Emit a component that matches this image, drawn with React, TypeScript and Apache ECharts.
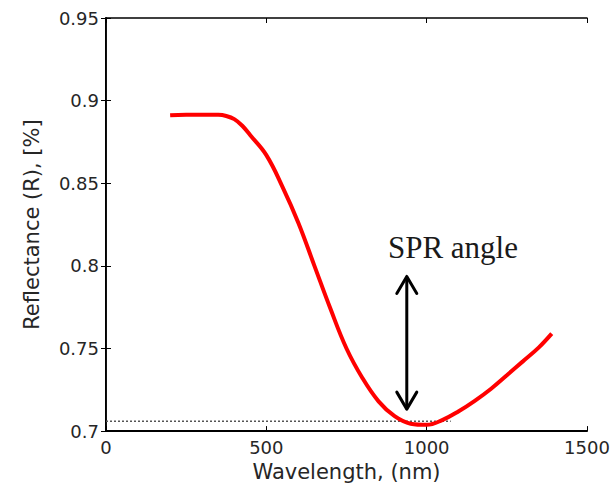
import React, { useEffect, useRef } from "react";
import * as echarts from "echarts";

// Reflectance curve
const wavelength = [200, 250, 300, 350, 375, 400, 425, 450, 500, 550, 600, 650, 700, 750, 800, 850, 900, 950, 1000, 1050, 1100, 1150, 1200, 1250, 1300, 1350, 1390];
const reflectance = [0.8912, 0.8915, 0.8915, 0.8914, 0.8907, 0.8888, 0.8848, 0.879, 0.867, 0.848, 0.826, 0.8, 0.774, 0.75, 0.732, 0.718, 0.709, 0.7045, 0.7038, 0.7068, 0.712, 0.7183, 0.7255, 0.7338, 0.7422, 0.7507, 0.759];

// Dotted reference line at the minimum
const refLineX = [0, 1075];
const refLineY = 0.706;

// SPR arrow and label
const arrowX = 938;
const arrowBottom = 0.7133;
const arrowTop = 0.7936;
const sprLabel = "SPR angle";
const sprLabelPos = [1082, 0.8111];

// Axes
const xMin = 0;
const xMax = 1500;
const xInterval = 500;
const yMin = 0.7;
const yMax = 0.95;
const yInterval = 0.05;
const xTitle = "Wavelength, (nm)";
const yTitle = "Reflectance (R), [%]";

export default function App() {
  const ref = useRef<HTMLDivElement>(null);
  useEffect(() => {
    if (!ref.current) return;
    const chart = echarts.init(ref.current, null, { renderer: "svg" });
    const labelFont = { fontFamily: "DejaVu Sans", fontSize: 18, color: "#262626" };
    const nameFont = { fontFamily: "DejaVu Sans", fontSize: 21, color: "#262626" };
    chart.setOption({
      animation: false,
      backgroundColor: "#ffffff",
      grid: { left: 106, right: 27, top: 18, bottom: 55 },
      xAxis: [
        {
          type: "value",
          position: "bottom",
          min: xMin,
          max: xMax,
          interval: xInterval,
          name: xTitle,
          nameLocation: "middle",
          nameGap: 27,
          nameTextStyle: nameFont,
          axisLine: { show: true, lineStyle: { color: "#000", width: 2 } },
          axisTick: { show: true, inside: true, length: 5, lineStyle: { color: "#000", width: 1 } },
          axisLabel: { ...labelFont, margin: 7, formatter: (v: number) => String(v) },
          splitLine: { show: false },
        },
        {
          type: "value",
          position: "top",
          min: xMin,
          max: xMax,
          interval: xInterval,
          axisLine: { show: true, lineStyle: { color: "#000", width: 1.5 } },
          axisTick: { show: true, inside: true, length: 5, lineStyle: { color: "#000", width: 1 } },
          axisLabel: { show: false },
          splitLine: { show: false },
        },
      ],
      yAxis: [
        {
          type: "value",
          position: "left",
          min: yMin,
          max: yMax,
          interval: yInterval,
          name: yTitle,
          nameLocation: "middle",
          nameGap: 64,
          nameRotate: 90,
          nameTextStyle: nameFont,
          axisLine: { show: true, lineStyle: { color: "#000", width: 2 } },
          axisTick: { show: true, inside: true, length: 5, lineStyle: { color: "#000", width: 1 } },
          axisLabel: { ...labelFont, margin: 7, formatter: (v: number) => String(Math.round(v * 100) / 100) },
          splitLine: { show: false },
        },
        {
          type: "value",
          position: "right",
          min: yMin,
          max: yMax,
          interval: yInterval,
          axisLine: { show: true, lineStyle: { color: "#111", width: 1 } },
          axisTick: { show: true, inside: true, length: 5, lineStyle: { color: "#000", width: 1 } },
          axisLabel: { show: false },
          splitLine: { show: false },
        },
      ],
      series: [
        {
          type: "line",
          xAxisIndex: 0,
          yAxisIndex: 0,
          data: refLineX.map((x) => [x, refLineY]),
          showSymbol: false,
          symbol: "none",
          lineStyle: { color: "#555", width: 1.5, type: [2, 2] },
          z: 1,
        },
        {
          type: "line",
          xAxisIndex: 0,
          yAxisIndex: 0,
          data: wavelength.map((w, i) => [w, reflectance[i]]),
          smooth: 0.4,
          showSymbol: false,
          symbol: "none",
          lineStyle: { color: "#ff0000", width: 4 },
          z: 3,
        },
        {
          type: "custom",
          coordinateSystem: "cartesian2d",
          xAxisIndex: 0,
          yAxisIndex: 0,
          data: [[arrowX, arrowBottom, arrowTop]],
          encode: { x: 0, y: [1, 2] },
          z: 4,
          renderItem: (params: any, api: any) => {
            const x = api.value(0);
            const pb = api.coord([x, api.value(1)]);
            const pt = api.coord([x, api.value(2)]);
            const hw = 10;
            const hh = 17;
            const stroke = { stroke: "#000", lineWidth: 3, fill: "none", lineCap: "round", lineJoin: "round" };
            return {
              type: "group",
              children: [
                { type: "line", shape: { x1: pb[0], y1: pb[1] - 1, x2: pt[0], y2: pt[1] + 1 }, style: stroke },
                {
                  type: "polyline",
                  shape: { points: [[pt[0] - hw, pt[1] + hh], [pt[0], pt[1]], [pt[0] + hw, pt[1] + hh]] },
                  style: stroke,
                },
                {
                  type: "polyline",
                  shape: { points: [[pb[0] - hw, pb[1] - hh], [pb[0], pb[1]], [pb[0] + hw, pb[1] - hh]] },
                  style: stroke,
                },
              ],
            };
          },
        },
        {
          type: "custom",
          coordinateSystem: "cartesian2d",
          xAxisIndex: 0,
          yAxisIndex: 0,
          data: [sprLabelPos],
          z: 5,
          renderItem: (params: any, api: any) => {
            const p = api.coord([api.value(0), api.value(1)]);
            return {
              type: "text",
              x: p[0],
              y: p[1],
              style: {
                text: sprLabel,
                fill: "#1a1a1a",
                font: '31px "Liberation Serif"',
                align: "center",
                verticalAlign: "middle",
              },
            };
          },
        },
      ],
    });
    return () => chart.dispose();
  }, []);
  return (
    <div
      ref={ref}
      style={{ position: "fixed", left: 0, top: 0, width: 614, height: 487 }}
    />
  );
}
